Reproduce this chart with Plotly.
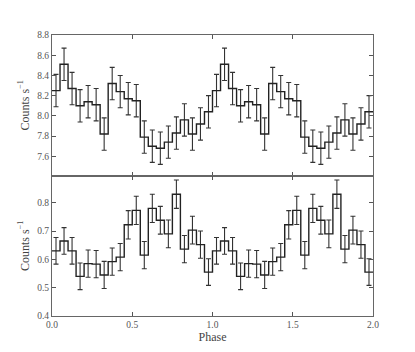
import numpy as np
import plotly.graph_objects as go
from plotly.subplots import make_subplots

# one cycle, 20 phase bins; plotted twice (phase 0-2)
top_rate = [8.25, 8.51, 8.27, 8.10, 8.14, 8.11, 7.82, 8.32, 8.24, 8.17,
            8.15, 7.79, 7.70, 7.68, 7.74, 7.83, 7.96, 7.82, 7.92, 8.04]
top_err = [0.16, 0.16, 0.16, 0.16, 0.16, 0.16, 0.16, 0.16, 0.16, 0.16,
           0.16, 0.16, 0.16, 0.16, 0.16, 0.16, 0.16, 0.16, 0.16, 0.16]
bot_rate = [0.630, 0.665, 0.630, 0.540, 0.585, 0.583, 0.545, 0.592, 0.608, 0.722,
            0.773, 0.615, 0.780, 0.738, 0.690, 0.830, 0.636, 0.703, 0.652, 0.555]
bot_err = [0.047, 0.047, 0.047, 0.047, 0.048, 0.048, 0.048, 0.048, 0.048, 0.050,
           0.050, 0.048, 0.050, 0.049, 0.049, 0.050, 0.048, 0.049, 0.048, 0.047]

nbin = 20
edges = np.linspace(0, 2, 2 * nbin + 1)
centers = 0.5 * (edges[:-1] + edges[1:])

font = "Liberation Serif, DejaVu Serif, serif"
fig = make_subplots(rows=2, cols=1, shared_xaxes=True, vertical_spacing=0)

for row, rate, err in [(1, top_rate, top_err), (2, bot_rate, bot_err)]:
    y = np.array(rate * 2)
    e = np.array(err * 2)
    fig.add_trace(go.Scatter(x=centers, y=y, mode="markers",
                             marker=dict(size=0.1, color="#333"),
                             error_y=dict(type="data", array=e, color="#333",
                                          thickness=1.1, width=2.5),
                             showlegend=False), row=row, col=1)
    fig.add_trace(go.Scatter(x=edges, y=np.append(y, y[-1]), mode="lines",
                             line=dict(shape="hv", color="#222", width=1.4),
                             showlegend=False), row=row, col=1)

axis_common = dict(showline=True, linecolor="#666", linewidth=1, mirror="allticks",
                   ticks="inside", ticklen=4, tickcolor="#555", showgrid=False,
                   zeroline=False, tickfont=dict(family=font, size=9.5, color="#555"))

fig.update_xaxes(range=[0, 2], tickvals=[0, 0.5, 1.0, 1.5, 2.0], **axis_common)
fig.update_xaxes(ticktext=["0.0", "0.5", "1.0", "1.5", "2.0"], row=2, col=1,
                 title=dict(text="Phase", font=dict(family=font, size=12, color="#444"),
                            standoff=0))
fig.update_yaxes(range=[7.41, 8.8], tickvals=[7.6, 7.8, 8.0, 8.2, 8.4, 8.6, 8.8],
                 ticktext=["7.6", "7.8", "8.0", "8.2", "8.4", "8.6", "8.8"],
                 row=1, col=1, **axis_common)
fig.update_yaxes(range=[0.4, 0.896], tickvals=[0.4, 0.5, 0.6, 0.7, 0.8],
                 ticktext=["0.4", "0.5", "0.6", "0.7", "0.8"],
                 row=2, col=1, **axis_common)
for row in (1, 2):
    fig.update_yaxes(title=dict(text="Counts s<sup>−1</sup>",
                                font=dict(family=font, size=12, color="#444"),
                                standoff=5), row=row, col=1)

fig.update_layout(width=407, height=344, margin=dict(l=44, r=42, t=27, b=36),
                  plot_bgcolor="white", paper_bgcolor="white",
                  font=dict(family=font))
fig.write_html("out.html")
